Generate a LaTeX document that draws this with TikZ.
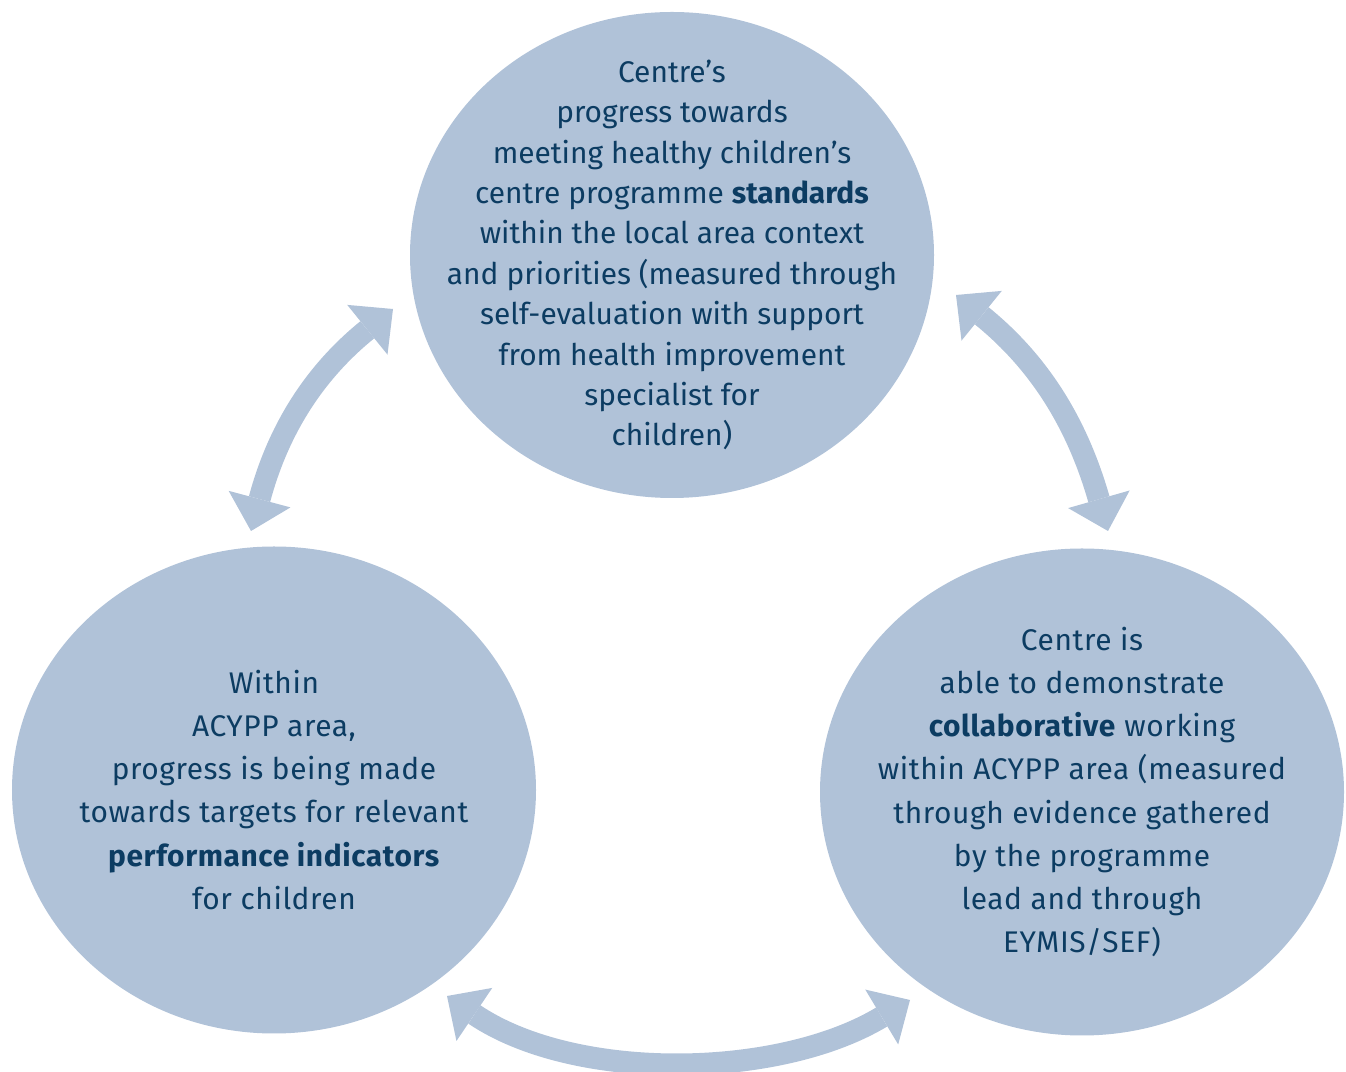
\documentclass[tikz,border=0pt]{standalone}
\usepackage{fontspec}
\setmainfont{Fira Sans}
\usetikzlibrary{shapes.geometric,arrows.meta}
\definecolor{bubblefill}{RGB}{176,194,216}
\definecolor{navytext}{RGB}{12,60,98}

\begin{document}
\begin{tikzpicture}[
		bubble/.style={
			ellipse,
			fill=bubblefill,
			inner sep=0pt,
			minimum width=10.48cm,
			minimum height=9.72cm
		},
		blurb/.style={
			align=center,
			inner sep=0pt,
			text=navytext,
			font=\fontsize{17}{23}\selectfont
		},
		lowblurb/.style={blurb,font=\fontsize{17}{24.5}\selectfont\addfontfeature{LetterSpace=2}},
		twoway/.style={
			{Triangle[length=0.66cm,width=1.28cm,line width=0pt]}-{Triangle[length=0.66cm,width=1.28cm,line width=0pt]},
			line width=0.44cm,
			draw=bubblefill
		}
		]
		
		\useasboundingbox (0,0) rectangle (26.92,21.44);
		
		\node[bubble] (standards) at (13.44,16.34) {};
		\node[bubble,minimum height=9.74cm] (indicators) at (5.48,5.64) {};
		\node[bubble,minimum height=9.74cm] (collab) at (21.64,5.60) {};
		
		\node[blurb] (standards-text) at (standards)
		{Centre's\\ progress towards\\ meeting healthy children's\\
			centre programme \textbf{standards}\\ within the local area context\\
			and priorities (measured through\\ self-evaluation with support\\
			from health improvement\\ specialist for\\ children)};
		\node[lowblurb] (indicators-text) at (indicators)
		{Within\\ ACYPP area,\\ progress is being made\\ towards targets for relevant\\
			\textbf{performance indicators}\\ for children};
		\node[lowblurb] (collab-text) at (collab)
		{Centre is\\ able to demonstrate\\ \textbf{collaborative} working\\
			within ACYPP area (measured\\ through evidence gathered\\
			by the programme\\ lead and through\\ EYMIS/SEF)};
		
		% arrow ends sit in the gaps between the bubbles
		\coordinate (standards-w) at (7.86,15.26);
		\coordinate (standards-e) at (19.12,15.54);
		\coordinate (indicators-n) at (5.02,10.82);
		\coordinate (collab-n) at (22.16,10.82);
		\coordinate (indicators-s) at (8.94,1.52);
		\coordinate (collab-s) at (18.20,1.44);
		
		\draw[twoway] (indicators-n) to[out=75,in=219] (standards-w);
		\draw[twoway] (standards-e) to[out=321,in=106] (collab-n);
		\draw[twoway] (indicators-s) to[out=326,in=211,looseness=0.85] (collab-s);
		
	\end{tikzpicture}
\end{document}
